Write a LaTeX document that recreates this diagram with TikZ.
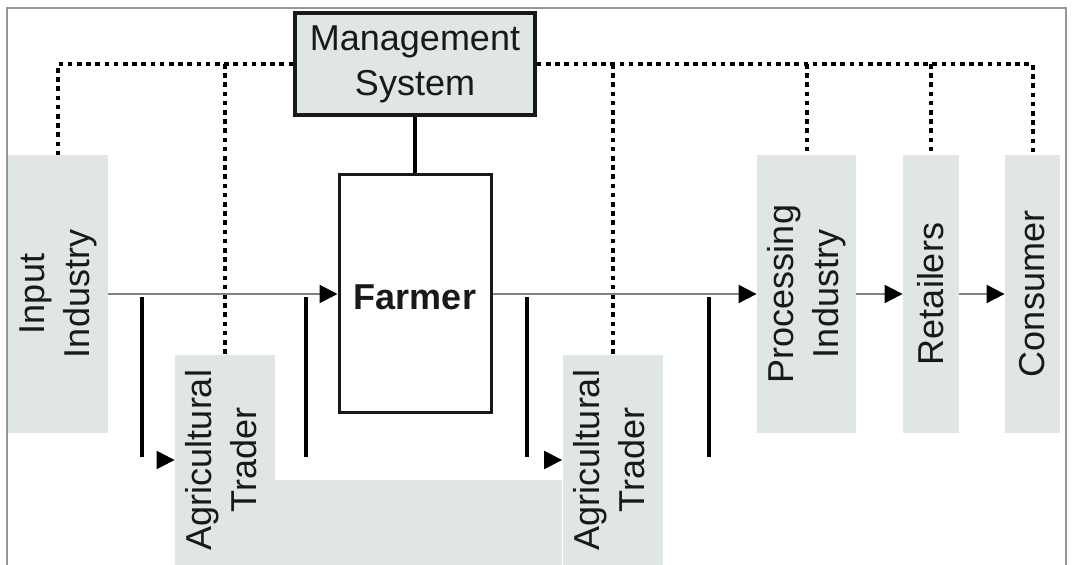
\documentclass[tikz,border=0pt]{standalone}
\usepackage{fontspec}
\setmainfont{Liberation Sans}
\usepackage{graphicx}
\usetikzlibrary{positioning,arrows.meta,calc}
\definecolor{boxgray}{RGB}{223,230,227}
\definecolor{framegray}{RGB}{150,150,150}
\definecolor{flowgray}{RGB}{130,130,130}

\begin{document}
\begin{tikzpicture}[x=0.5pt, y=-0.5pt,
        every node/.style={font=\fontsize{18}{22.5}\selectfont, text=black!90},
        actor/.style={fill=boxgray, inner sep=0pt, minimum height=139pt},
        mgmt/.style={draw=black!90, line width=1.8pt, fill=boxgray, align=center, inner sep=0pt, minimum width=120pt, minimum height=51pt},
        farm/.style={draw=black!90, line width=1.5pt, inner sep=0pt, minimum width=76pt, minimum height=119pt},
        flow/.style={draw=flowgray, line width=1pt, -{Triangle[length=9pt,width=9pt,color=black]}},
        ctrl/.style={line width=2pt, dash pattern=on 2.3pt off 2.3pt},
        cut/.style={line width=2pt},
        link/.style={line width=2pt}]
        \useasboundingbox (0,0) rectangle (1072,565);
        \draw[framegray, line width=1pt] (7,575) -- (7,8) -- (1066,8) -- (1066,575);

        \node[mgmt] (ms) at (415,64) {Management\\System};
        \node[farm] (farmer) at (415,294) {};
        \node[font=\fontsize{18}{22.5}\selectfont\bfseries] (farmertxt) at (415,297) {Farmer};

        \node[actor, minimum width=50pt] (inp) at (58,294) {\rotatebox{90}{\begin{tabular}{@{}c@{}}Input\\Industry\end{tabular}}};
        \node[actor, minimum width=50pt, minimum height=105pt] (trader1) at (225,460) {\rotatebox{90}{\begin{tabular}{@{}c@{}}Agricultural\\Trader\end{tabular}}};
        \node[actor, minimum width=50pt, minimum height=105pt] (trader2) at (612.5,460) {\rotatebox{90}{\begin{tabular}{@{}c@{}}Agricultural\\Trader\end{tabular}}};
        \fill[boxgray] (trader1.south east) rectangle (trader2.west |- 0,480);
        \node[actor, minimum width=49.5pt] (proc) at (806.5,294) {\rotatebox{90}{\begin{tabular}{@{}c@{}}Processing\\Industry\end{tabular}}};
        \node[actor, minimum width=28pt] (ret) at (931,294) {\rotatebox{90}{Retailers}};
        \node[actor, minimum width=27.5pt] (cons) at (1032.5,294) {\rotatebox{90}{Consumer}};

        \draw[ctrl] (ms.west) -| (inp.north);
        \draw[ctrl] (ms.west -| trader1.north) -- (trader1.north);
        \draw[ctrl] (ms.east) -| (cons.north);
        \draw[ctrl] (ms.east -| trader2.north) -- (trader2.north);
        \draw[ctrl] (ms.east -| proc.north) -- (proc.north);
        \draw[ctrl] (ms.east -| ret.north) -- (ret.north);

        \draw[link] (ms) -- (farmer);

        \draw[flow] (inp) -- (farmer);
        \draw[flow] (farmer) -- (proc);
        \draw[flow] (proc) -- (ret);
        \draw[flow] (ret) -- (cons);
        \draw[flow] ([xshift=-9pt]trader1.west) -- (trader1.west);
        \draw[flow] ([xshift=-9pt]trader2.west) -- (trader2.west);

        \foreach \x in {142,306,527,709}
            \draw[cut] (\x,297) -- (\x,457);
    \end{tikzpicture}
\end{document}
